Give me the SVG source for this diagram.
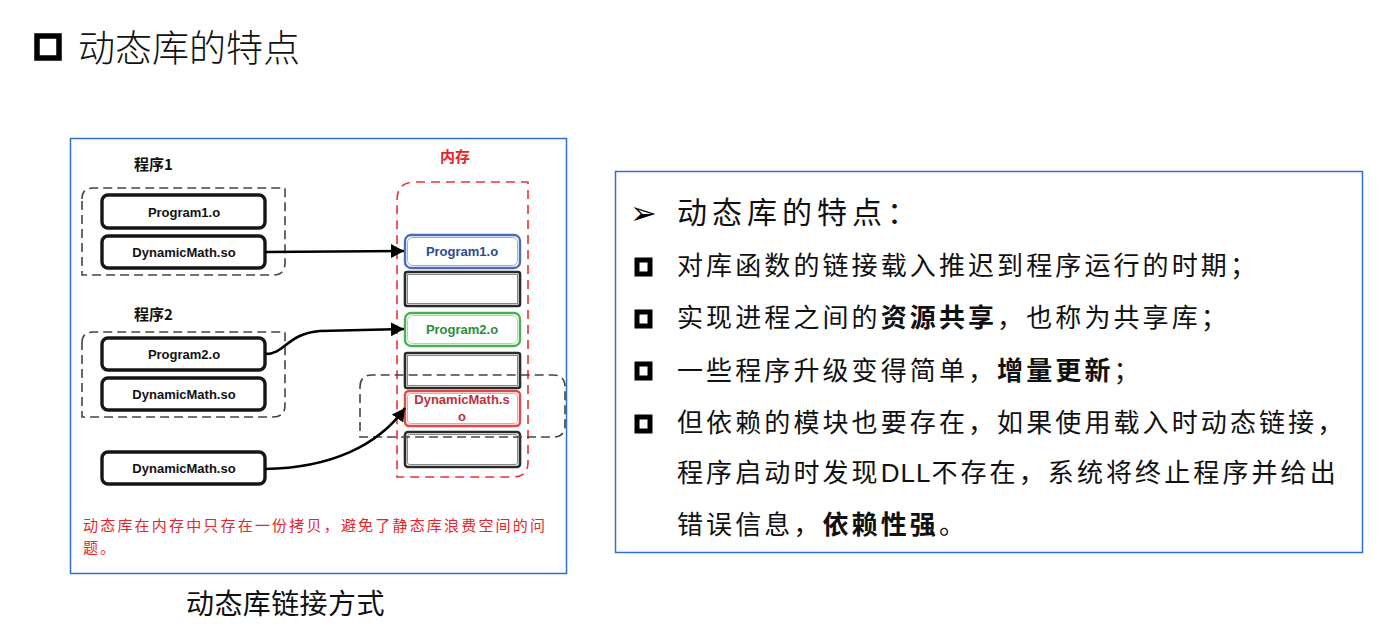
<svg xmlns="http://www.w3.org/2000/svg" width="1387" height="637" viewBox="0 0 1387 637">
<style>
.cjk{font-family:"Noto Sans CJK SC","Noto Sans",sans-serif}
.lat{font-family:"Liberation Sans",Arial,sans-serif;font-weight:bold;font-size:13px;text-anchor:middle}
.hb{fill:#fff;stroke:#161616;stroke-width:3.4}
.grp{fill:none;stroke:#444;stroke-width:1.6;stroke-dasharray:9 5}
.conn{fill:none;stroke:#000;stroke-width:2.6}
.frame{fill:#fff;stroke:#2F6FCF;stroke-width:1.5}
.bul{fill:#fff;stroke:#000;stroke-width:5}
.ln{font-size:26px;letter-spacing:3.1px;fill:#111}
.b{font-weight:bold}
.dll{font-family:"Liberation Sans",Arial,sans-serif;letter-spacing:1px}
</style>
<defs>
<marker id="ah" markerUnits="userSpaceOnUse" markerWidth="14" markerHeight="14" refX="13" refY="7" orient="auto">
<path d="M0,0 L13,7 L0,14 Z" fill="#000"/>
</marker>
</defs>
<rect width="1387" height="637" fill="#fff"/>

<g id="title">
<rect x="37" y="36" width="22" height="22" fill="#fff" stroke="#000" stroke-width="5.5"/>
<text x="78" y="62" class="cjk" font-size="37" font-weight="300" fill="#111">动态库的特点</text>
</g>

<g id="left-panel">
<rect class="frame" x="70.5" y="138.5" width="496" height="435"/>
</g>

<g id="label-p1"><text x="134" y="170" class="cjk" font-size="15" font-weight="bold" fill="#111">程序1</text></g>
<g id="group1"><path class="grp" d="M82,199 Q82,188 93,188 L285,188 L285,263 Q285,275 273,275 L82,275 Z"/></g>
<g id="p1-prog"><rect class="hb" x="102" y="195" width="163" height="33" rx="6"/><text class="lat" x="184" y="217" fill="#111">Program1.o</text></g>
<g id="p1-dyn"><rect class="hb" x="102" y="236" width="163" height="32" rx="6"/><text class="lat" x="184" y="257" fill="#111">DynamicMath.so</text></g>

<g id="label-p2"><text x="134" y="320" class="cjk" font-size="15" font-weight="bold" fill="#111">程序2</text></g>
<g id="group2"><path class="grp" d="M82,343 Q82,332 93,332 L285,332 L285,405 Q285,417 273,417 L82,417 Z"/></g>
<g id="p2-prog"><rect class="hb" x="102" y="338" width="163" height="32" rx="6"/><text class="lat" x="184" y="359" fill="#111">Program2.o</text></g>
<g id="p2-dyn"><rect class="hb" x="102" y="378" width="163" height="32" rx="6"/><text class="lat" x="184" y="399" fill="#111">DynamicMath.so</text></g>

<g id="dyn-lib"><rect class="hb" x="102" y="452" width="163" height="32" rx="6"/><text class="lat" x="184" y="473" fill="#111">DynamicMath.so</text></g>

<g id="memory-label"><text x="440" y="162" class="cjk" font-size="15" font-weight="bold" fill="#E8242B">内存</text></g>
<g id="memory"><path d="M397,200 Q397,182 415,182 L528,182 L528,462 Q528,477 513,477 L397,477 Z" fill="none" stroke="#F03030" stroke-width="1.6" stroke-dasharray="9 6"/></g>

<g id="mem-prog1">
<rect x="405" y="235" width="115" height="33" rx="6" fill="#fff" stroke="#4A6DB5" stroke-width="2.4"/>
<rect x="407.5" y="237.5" width="110" height="28" rx="5" fill="none" stroke="#9AB0DC" stroke-width="1"/>
<text class="lat" x="462" y="256" fill="#2B4A93">Program1.o</text>
</g>
<g id="mem-empty1">
<rect x="405" y="272" width="115" height="34" rx="2" fill="#fff" stroke="#2a2a2a" stroke-width="2.6"/>
<rect x="407.5" y="274.5" width="110" height="29" fill="none" stroke="#888" stroke-width="1"/>
</g>
<g id="mem-prog2">
<rect x="405" y="313" width="115" height="33" rx="6" fill="#fff" stroke="#4CAF50" stroke-width="2.4"/>
<rect x="407.5" y="315.5" width="110" height="28" rx="5" fill="none" stroke="#A8DBA8" stroke-width="1"/>
<text class="lat" x="462" y="334" fill="#2E8B3A">Program2.o</text>
</g>
<g id="mem-empty2">
<rect x="405" y="353" width="115" height="35" rx="2" fill="#fff" stroke="#2a2a2a" stroke-width="2.6"/>
<rect x="407.5" y="355.5" width="110" height="30" fill="none" stroke="#888" stroke-width="1"/>
</g>
<g id="mem-dyn">
<rect x="405" y="391" width="115" height="35" rx="4" fill="#fff" stroke="#E04848" stroke-width="2.4"/>
<rect x="407.5" y="393.5" width="110" height="30" rx="3" fill="none" stroke="#F2A0A0" stroke-width="1"/>
<text class="lat" x="462" y="404" fill="#C0303A" font-size="12.5">DynamicMath.s</text>
<text class="lat" x="462" y="421" fill="#C0303A" font-size="12.5">o</text>
</g>
<g id="mem-empty3">
<rect x="405" y="432" width="115" height="35" rx="3" fill="#fff" stroke="#2a2a2a" stroke-width="2.6"/>
<rect x="407.5" y="434.5" width="110" height="30" rx="2" fill="none" stroke="#888" stroke-width="1"/>
</g>
<g id="shared-group"><path class="grp" d="M360,387 Q360,375 372,375 L553,375 Q565,375 565,387 L565,425 Q565,437 553,437 L360,437 Z"/></g>

<g id="connectors">
<path class="conn" d="M265,252 L404,251" marker-end="url(#ah)"/>
<path class="conn" d="M265,354 C286,354 286,334 320,331 L404,329" marker-end="url(#ah)"/>
<path class="conn" d="M265,469 C330,468 378,446 405,408" marker-end="url(#ah)"/>
</g>

<g id="note">
<text x="83" y="531" class="cjk" font-size="15" fill="#E8242B" textLength="462" lengthAdjust="spacing">动态库在内存中只存在一份拷贝，避免了静态库浪费空间的问</text>
<text x="83" y="553" class="cjk" font-size="15" fill="#E8242B" letter-spacing="2">题。</text>
</g>

<g id="caption"><text x="186" y="614" class="cjk" font-size="28" fill="#111" letter-spacing="0.4">动态库链接方式</text></g>

<g id="right-panel">
<rect class="frame" x="615.5" y="171.5" width="747" height="381"/>
<text x="630" y="224" font-family="DejaVu Sans,sans-serif" font-size="32" fill="#000">➢</text>
<text x="677" y="223" class="cjk" font-size="30" letter-spacing="5" fill="#111">动态库的特点：</text>
<rect class="bul" x="637" y="260" width="13" height="14"/>
<text x="677" y="275" class="cjk ln">对库函数的链接载入推迟到程序运行的时期；</text>
<rect class="bul" x="637" y="312" width="13" height="14"/>
<text x="677" y="327" class="cjk ln">实现进程之间的<tspan class="b">资源共享</tspan>，也称为共享库；</text>
<rect class="bul" x="637" y="364" width="13" height="14"/>
<text x="677" y="380" class="cjk ln">一些程序升级变得简单，<tspan class="b">增量更新</tspan>；</text>
<rect class="bul" x="637" y="417" width="13" height="14"/>
<text x="677" y="432" class="cjk ln">但依赖的模块也要存在，如果使用载入时动态链接，</text>
<text x="677" y="482" class="cjk ln">程序启动时发现<tspan class="dll">DLL</tspan>不存在，系统将终止程序并给出</text>
<text x="677" y="534" class="cjk ln">错误信息，<tspan class="b">依赖性强</tspan>。</text>
</g>
</svg>
